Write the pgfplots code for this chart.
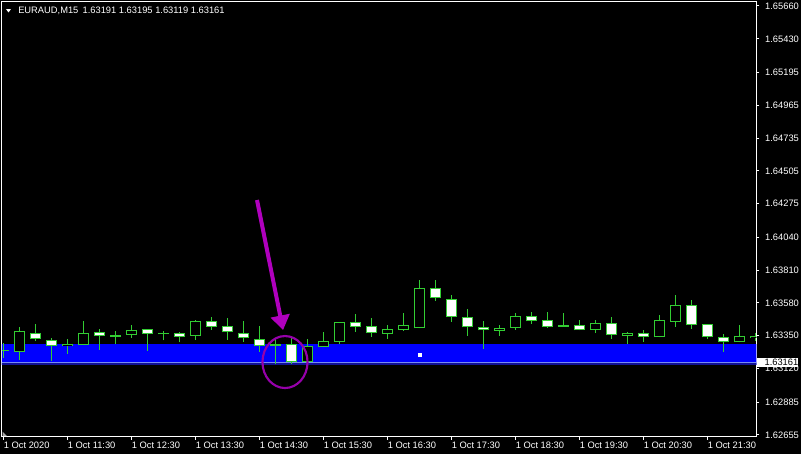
\documentclass[border=0pt]{standalone}
\usepackage{fontspec}
\setmainfont{Liberation Sans}
\usepackage{pgfplots}
\pgfplotsset{compat=1.18}
\usepackage{pgfplotstable}
\usetikzlibrary{arrows.meta}

\definecolor{cgreen}{RGB}{50,205,50}
\definecolor{zoneblue}{RGB}{0,0,255}
\definecolor{darkstrip}{RGB}{16,16,150}
\definecolor{bidline}{RGB}{120,140,240}
\definecolor{arrowmag}{RGB}{176,0,190}
\definecolor{ringmag}{RGB}{150,0,170}

% EURAUD M15 candles, x = bar index (0 = 10:30)
\pgfplotstableread{
x  o       h       l       c
1  1.63238 1.63411 1.63182 1.63381
4  1.63276 1.63327 1.63224 1.63292
5  1.63287 1.63453 1.63287 1.63367
8  1.63357 1.63423 1.63336 1.63388
12 1.63350 1.63460 1.63322 1.63453
19 1.63168 1.63327 1.63168 1.63278
20 1.63269 1.63376 1.63269 1.63311
21 1.63308 1.63444 1.63294 1.63444
24 1.63364 1.63425 1.63329 1.63395
25 1.63392 1.63509 1.63385 1.63423
26 1.63402 1.63741 1.63402 1.63683
31 1.63386 1.63425 1.63350 1.63404
32 1.63407 1.63507 1.63392 1.63486
37 1.63392 1.63460 1.63371 1.63437
39 1.63351 1.63378 1.63294 1.63369
41 1.63339 1.63495 1.63339 1.63458
42 1.63448 1.63636 1.63414 1.63563
46 1.63304 1.63425 1.63304 1.63346
47 1.63332 1.63371 1.63313 1.63348
}\bull

\pgfplotstableread{
x  o       h       l       c
2  1.63371 1.63430 1.63313 1.63325
3  1.63322 1.63334 1.63173 1.63276
6  1.63374 1.63395 1.63252 1.63346
9  1.63395 1.63395 1.63245 1.63364
11 1.63367 1.63376 1.63304 1.63343
13 1.63451 1.63479 1.63392 1.63414
14 1.63416 1.63472 1.63322 1.63374
15 1.63367 1.63453 1.63308 1.63332
16 1.63329 1.63418 1.63238 1.63276
18 1.63290 1.63334 1.63150 1.63168
22 1.63444 1.63502 1.63378 1.63414
23 1.63416 1.63474 1.63343 1.63367
27 1.63683 1.63741 1.63596 1.63612
28 1.63605 1.63636 1.63448 1.63479
29 1.63479 1.63538 1.63350 1.63409
30 1.63409 1.63453 1.63259 1.63388
33 1.63486 1.63516 1.63435 1.63451
34 1.63458 1.63516 1.63407 1.63414
36 1.63423 1.63460 1.63388 1.63388
38 1.63437 1.63481 1.63329 1.63353
40 1.63367 1.63390 1.63308 1.63343
43 1.63563 1.63600 1.63399 1.63423
44 1.63430 1.63430 1.63327 1.63339
45 1.63339 1.63360 1.63238 1.63304
}\bear

\pgfplotstableread{
x  o       h       l       c
0  1.63240 1.63297 1.63196 1.63247
7  1.63343 1.63383 1.63294 1.63357
10 1.63360 1.63383 1.63318 1.63369
17 1.63278 1.63325 1.63150 1.63290
35 1.63414 1.63507 1.63414 1.63425
}\doji

\pgfplotsset{
  candle/.style 2 args={draw=none, mark=none,
    error bars/.cd, y dir=plus, y explicit, error mark=none,
    error bar style={draw=#1, solid, line width=#2}},
}

\begin{document}
\begin{tikzpicture}
\fill[black] (-1.5pt,-12.975pt) rectangle (599.25pt,327.525pt);
\begin{axis}[
  name=main,
  scale only axis, width=565.725pt, height=326.25pt,
  xmin=-0.1, xmax=47.05, ymin=1.62643, ymax=1.65690,
  axis background/.style={fill=black},
  axis line style={white, line width=0.75pt},
  tick style={white, line width=0.75pt},
  tick align=outside, major tick length=2.25pt,
  xtick pos=left, ytick pos=right, yticklabel pos=right,
  scaled y ticks=false,
  xtick={0,4,...,44},
  xticklabels={1 Oct 2020,1 Oct 11:30,1 Oct 12:30,1 Oct 13:30,1 Oct 14:30,1 Oct 15:30,
    1 Oct 16:30,1 Oct 17:30,1 Oct 18:30,1 Oct 19:30,1 Oct 20:30,1 Oct 21:30},
  ytick={1.62655,1.62885,1.63120,1.63350,1.63580,1.63810,1.64040,1.64275,1.64505,
    1.64735,1.64965,1.65195,1.65430,1.65660},
  yticklabels={1.62655,1.62885,1.63120,1.63350,1.63580,1.63810,1.64040,1.64275,1.64505,
    1.64735,1.64965,1.65195,1.65430,1.65660},
  tick label style={font=\fontsize{7}{8}\selectfont, text=white, inner sep=0pt},
  yticklabel style={anchor=west, xshift=4.2pt},
  xticklabel style={anchor=north west, yshift=-1.7pt},
]
% support zone and bid line
\addplot[draw=none, fill=zoneblue] coordinates {(-1,1.63145) (48,1.63145) (48,1.63292) (-1,1.63292)} -- cycle;
\addplot[draw=none, fill=darkstrip] coordinates {(-1,1.63145) (48,1.63145) (48,1.63158) (-1,1.63158)} -- cycle;
\addplot[bidline, line width=0.75pt] coordinates {(-1,1.63161) (48,1.63161)};

% wicks
\addplot[candle={cgreen}{0.75pt}] table[x=x, y=l, y error plus expr={\thisrow{h}-\thisrow{l}}] {\bull};
\addplot[candle={cgreen}{0.75pt}] table[x=x, y=l, y error plus expr={\thisrow{h}-\thisrow{l}}] {\bear};
\addplot[candle={cgreen}{0.75pt}] table[x=x, y=l, y error plus expr={\thisrow{h}-\thisrow{l}}] {\doji};
% bodies
\addplot[candle={cgreen}{8.25pt}] table[x=x, y expr={min(\thisrow{o},\thisrow{c})}, y error plus expr={abs(\thisrow{c}-\thisrow{o})}] {\bull};
\addplot[candle={cgreen}{8.25pt}] table[x=x, y expr={min(\thisrow{o},\thisrow{c})}, y error plus expr={abs(\thisrow{c}-\thisrow{o})}] {\bear};
\addplot[candle={cgreen}{8.25pt}] table[x=x, y expr={min(\thisrow{o},\thisrow{c})}, y error plus expr={abs(\thisrow{c}-\thisrow{o})}] {\doji};
\addplot[candle={black}{6.75pt}] table[x=x, y expr={min(\thisrow{o},\thisrow{c})+0.00007}, y error plus expr={abs(\thisrow{c}-\thisrow{o})-0.00014}] {\bull};
\addplot[candle={white}{6.75pt}] table[x=x, y expr={min(\thisrow{o},\thisrow{c})+0.00007}, y error plus expr={abs(\thisrow{c}-\thisrow{o})-0.00014}] {\bear};

\addplot[only marks, mark=square*, mark size=1.1pt, white] coordinates {(26,1.63220)};

% annotation
\draw[arrowmag, line width=3pt, -{Triangle[length=11pt, width=14pt]}] (axis cs:15.84,1.64301) -- (axis cs:17.47,1.63390);
\draw[ringmag, line width=1.6pt] (axis cs:17.59,1.63166) ellipse [x radius=16.9pt, y radius=19.5pt];

\coordinate (pl) at (axis cs:47.05,1.63161);
\end{axis}

\node[anchor=west, fill=white, text=black, inner xsep=0pt, inner ysep=0pt, minimum height=6.5pt,
  font=\fontsize{7}{8}\selectfont, xshift=0.4pt] at (pl) {\hspace{5.6pt}1.63161\hspace{1.2pt}};

\fill[white] ([shift={(3pt,-5.5pt)}]main.north west) -- ([shift={(6.75pt,-5.5pt)}]main.north west)
  -- ([shift={(4.875pt,-8.1pt)}]main.north west) -- cycle;
\node[anchor=base west, text=white, inner sep=0pt, font=\fontsize{7}{8}\selectfont]
  at ([shift={(12pt,-8.7pt)}]main.north west) {EURAUD,M15\hspace{0.45em}1.63191 1.63195 1.63119 1.63161};

\fill[gray!70] ([shift={(0.4pt,0.4pt)}]main.south west) -- ([shift={(3.75pt,0.4pt)}]main.south west)
  -- ([shift={(0.4pt,3.75pt)}]main.south west) -- cycle;

\pgfresetboundingbox
\useasboundingbox (-1.5pt,-12.975pt) rectangle (599.25pt,327.525pt);
\end{tikzpicture}
\end{document}
